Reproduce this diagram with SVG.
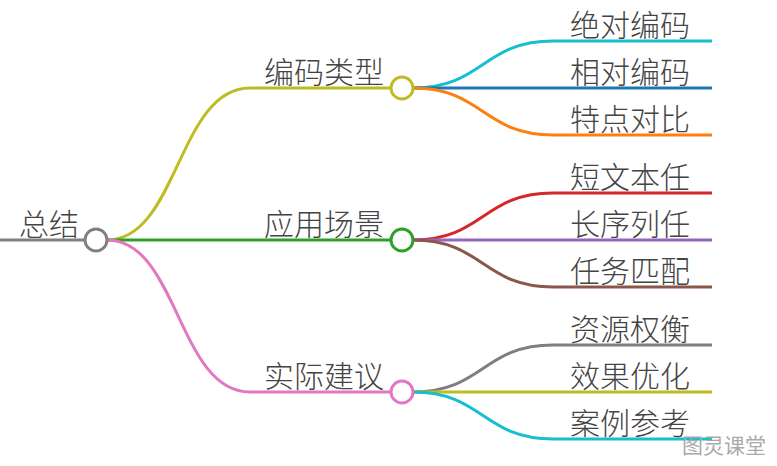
<svg xmlns="http://www.w3.org/2000/svg" width="777" height="466" viewBox="0 0 777 466">
<style>
.t{font-family:"Noto Sans CJK SC","Noto Sans CJK TC",sans-serif;font-size:30px;fill:#444;font-weight:300}
.l{fill:none;stroke-width:3}
.n{fill:#fff;stroke-width:3}
.wm{font-family:"Noto Sans CJK SC",sans-serif;font-size:21px;fill:#aaa}
</style>
<rect width="777" height="466" fill="#fff"/>
<g id="connectors">
<path class="l" stroke="#808080" d="M0,240H85"/>
<path class="l" stroke="#bcbd22" d="M107,240C178,240 178,88 250,88H391"/>
<path class="l" stroke="#2ca02c" d="M107,240H391"/>
<path class="l" stroke="#e377c2" d="M107,240C178,240 178,392 250,392H391"/>
<path class="l" stroke="#17becf" d="M413,88C483,88 483,41 553,41H712"/>
<path class="l" stroke="#1f77b4" d="M413,88H712"/>
<path class="l" stroke="#ff7f0e" d="M413,88C483,88 483,135 553,135H712"/>
<path class="l" stroke="#d62728" d="M413,240C483,240 483,193 553,193H712"/>
<path class="l" stroke="#9467bd" d="M413,240H712"/>
<path class="l" stroke="#8c564b" d="M413,240C483,240 483,287 553,287H712"/>
<path class="l" stroke="#7f7f7f" d="M413,392C483,392 483,345 553,345H712"/>
<path class="l" stroke="#bcbd22" d="M413,392H712"/>
<path class="l" stroke="#17becf" d="M413,392C483,392 483,439 553,439H712"/>
</g>
<g id="root"><text class="t" x="19" y="235">总结</text><circle class="n" cx="96" cy="240" r="11" stroke="#808080"/></g>
<g id="b1"><text class="t" x="264" y="83">编码类型</text><circle class="n" cx="402" cy="88" r="11" stroke="#bcbd22"/></g>
<g id="b2"><text class="t" x="264" y="235">应用场景</text><circle class="n" cx="402" cy="240" r="11" stroke="#2ca02c"/></g>
<g id="b3"><text class="t" x="264" y="387">实际建议</text><circle class="n" cx="402" cy="392" r="11" stroke="#e377c2"/></g>
<g id="l1"><text class="t" x="570" y="36">绝对编码</text></g>
<g id="l2"><text class="t" x="570" y="83">相对编码</text></g>
<g id="l3"><text class="t" x="570" y="130">特点对比</text></g>
<g id="l4"><text class="t" x="570" y="188">短文本任</text></g>
<g id="l5"><text class="t" x="570" y="235">长序列任</text></g>
<g id="l6"><text class="t" x="570" y="282">任务匹配</text></g>
<g id="l7"><text class="t" x="570" y="340">资源权衡</text></g>
<g id="l8"><text class="t" x="570" y="387">效果优化</text></g>
<g id="l9"><text class="t" x="570" y="434">案例参考</text></g>
<text class="wm" x="682" y="453">图灵课堂</text>
</svg>
